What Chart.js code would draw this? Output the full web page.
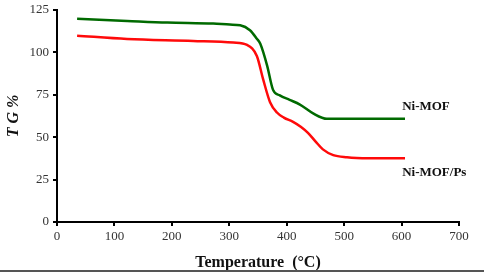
<!DOCTYPE html>
<html>
<head>
<meta charset="utf-8">
<script src="https://cdn.jsdelivr.net/npm/chart.js@4/dist/chart.umd.min.js"></script>
<style>
html,body{margin:0;padding:0;background:#fff;}
#wrap{position:relative;width:484px;height:274px;}
</style>
</head>
<body>
<div id="wrap"><canvas id="c" width="484" height="274"></canvas></div>
<script>
const tempMOF = [35, 122, 192, 272, 301, 319, 336, 348, 354, 366, 376, 388, 405, 423, 446, 470, 500, 550, 606];
const valMOF  = [119.8, 118.5, 117.5, 116.9, 116.3, 115.9, 113, 108, 105, 92, 78, 74.6, 72, 69.2, 64, 60.8, 60.8, 60.8, 60.8];
const tempPs  = [35, 122, 237, 307, 331, 348, 359, 371, 383, 395, 411, 425, 437, 450, 463, 481, 505, 542, 606];
const valPs   = [109.8, 107.8, 106.7, 105.7, 104.3, 97.8, 84, 70.6, 64.5, 61.5, 59, 56, 52.5, 47.5, 42.8, 39.4, 38.2, 37.6, 37.5];
const seriesNames = ['Ni-MOF', 'Ni-MOF/Ps'];
const labelPos = [[601, 67.7], [601, 29]];
const xTicks = [0, 100, 200, 300, 400, 500, 600, 700];
const yTicks = [0, 25, 50, 75, 100, 125];

const toPts = (xs, ys) => xs.map((x, i) => ({x: x, y: ys[i]}));
const serif = '"Liberation Serif", "Times New Roman", serif';

const labelPlugin = {
  id: 'labels',
  afterDatasetsDraw(chart) {
    const ctx = chart.ctx;
    const xs = chart.scales.x, ys = chart.scales.y;
    ctx.save();
    ctx.font = 'bold 13px ' + serif;
    ctx.fillStyle = '#111';
    ctx.textAlign = 'left';
    ctx.textBaseline = 'middle';
    seriesNames.forEach((n, i) => {
      ctx.fillText(n, xs.getPixelForValue(labelPos[i][0]), ys.getPixelForValue(labelPos[i][1]));
    });
    ctx.restore();
  },
  afterDraw(chart) {
    const ctx = chart.ctx;
    ctx.save();
    ctx.strokeStyle = '#555';
    ctx.lineWidth = 2;
    ctx.beginPath();
    ctx.moveTo(0, 271);
    ctx.lineTo(chart.width, 271);
    ctx.stroke();
    ctx.restore();
  }
};

new Chart(document.getElementById('c'), {
  type: 'line',
  data: {
    datasets: [
      {label: seriesNames[0], data: toPts(tempMOF, valMOF), borderColor: '#006a00', borderWidth: 2.5, pointRadius: 0, cubicInterpolationMode: 'monotone', fill: false},
      {label: seriesNames[1], data: toPts(tempPs, valPs), borderColor: '#ff0a0a', borderWidth: 2.5, pointRadius: 0, cubicInterpolationMode: 'monotone', fill: false}
    ]
  },
  options: {
    responsive: false,
    animation: false,
    layout: {padding: {left: 0, right: 25, top: 0, bottom: 0}},
    plugins: {legend: {display: false}, tooltip: {enabled: false}},
    scales: {
      x: {
        type: 'linear', min: 0, max: 700,
        afterBuildTicks: s => { s.ticks = xTicks.map(v => ({value: v})); },
        afterFit: s => { s.height = 52; },
        border: {display: true, color: '#000', width: 2},
        grid: {drawOnChartArea: false, color: '#000', tickLength: 4, lineWidth: 2},
        ticks: {font: {family: serif, size: 13}, color: '#333', padding: 3, maxRotation: 0},
        title: {display: true, text: 'Temperature  (\u00B0C)', font: {family: serif, size: 16, weight: 'bold'}, color: '#111', padding: {top: 0, bottom: 2}}
      },
      y: {
        min: 0, max: 125,
        afterBuildTicks: s => { s.ticks = yTicks.map(v => ({value: v})); },
        afterFit: s => { s.width = 57; },
        border: {display: true, color: '#000', width: 2},
        grid: {drawOnChartArea: false, color: '#000', tickLength: 4, lineWidth: 2},
        ticks: {font: {family: serif, size: 13, lineHeight: 0.9}, color: '#333', padding: 4},
        title: {display: true, text: 'T G %', font: {family: serif, size: 16, weight: 'bold', style: 'italic'}, color: '#111', padding: {top: 4, bottom: 0}}
      }
    }
  },
  plugins: [labelPlugin]
});
</script>
</body>
</html>
